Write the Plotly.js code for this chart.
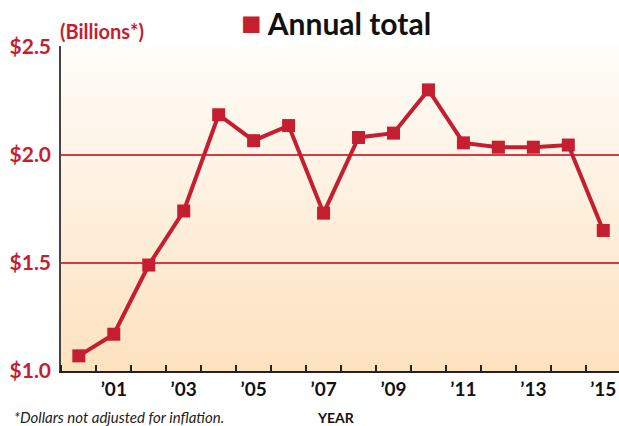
<!DOCTYPE html>
<html>
<head>
<meta charset="utf-8">
<script src="https://cdn.plot.ly/plotly-3.0.1.min.js"></script>
<style>html,body{margin:0;padding:0;background:#fff;}#chart{width:619px;height:426px;}</style>
</head>
<body>
<div id="chart"></div>
<script>
// Data
var years = [2000,2001,2002,2003,2004,2005,2006,2007,2008,2009,2010,2011,2012,2013,2014,2015];
var totals = [1.07,1.17,1.49,1.74,2.185,2.065,2.135,1.73,2.08,2.10,2.30,2.055,2.035,2.035,2.045,1.65];
var xTickVals = [2001,2003,2005,2007,2009,2011,2013,2015];
var xTickText = ["\u201901","\u201903","\u201905","\u201907","\u201909","\u201911","\u201913","\u201915"];
var yTickVals = [1.0,1.5,2.0,2.5];
var yTickText = ["$1.0","$1.5","$2.0","$2.5"];

var RED = "#c41e30";
var FONT = "Lato, 'Open Sans', sans-serif";

var gradSvg = '<svg xmlns="http://www.w3.org/2000/svg" width="10" height="100" preserveAspectRatio="none">' +
  '<defs><linearGradient id="g" x1="0" y1="0" x2="0" y2="1">' +
  '<stop offset="0" stop-color="#fffdfa"/><stop offset="1" stop-color="#fde2bf"/>' +
  '</linearGradient></defs><rect width="10" height="100" fill="url(#g)"/></svg>';
var gradUri = "data:image/svg+xml;base64," + btoa(gradSvg);

var trace = {
  x: years, y: totals, type: "scatter", mode: "lines+markers",
  line: {color: RED, width: 4},
  marker: {symbol: "square", size: 13, color: RED},
  showlegend: false, hoverinfo: "x+y"
};

var layout = {
  width: 619, height: 426,
  margin: {l: 61, r: 0, t: 46, b: 55},
  paper_bgcolor: "#ffffff",
  plot_bgcolor: "rgba(0,0,0,0)",
  title: {
    text: '<span style="color:' + RED + ';font-size:34px">\u25A0</span> Annual total',
    font: {family: FONT, size: 30, color: "#111111", weight: "bold"},
    x: 336/619, xref: "container", xanchor: "center",
    y: 1 - 24/426, yref: "container", yanchor: "middle"
  },
  xaxis: {
    range: [1999.49, 2015.45],
    tickmode: "array", tickvals: xTickVals, ticktext: xTickText,
    ticks: "", showgrid: false, zeroline: false,
    showline: true, linecolor: "#222222", linewidth: 1.5,
    tickfont: {family: FONT, size: 19, color: "#111111", weight: "bold"},
    minor: {tick0: 1999.5, dtick: 1, ticks: "inside", ticklen: 6, tickwidth: 1.5, tickcolor: "#222222", showgrid: false}
  },
  yaxis: {
    range: [1.0, 2.503],
    tickmode: "array", tickvals: yTickVals, ticktext: yTickText,
    ticks: "", showgrid: true, gridcolor: "#d63a48", gridwidth: 1.5,
    zeroline: false, showline: true, linecolor: "#444444", linewidth: 1.5,
    tickfont: {family: FONT, size: 21, color: RED, weight: "bold"},
    ticklabelstandoff: 4
  },
  images: [{
    source: gradUri, xref: "paper", yref: "paper", x: 0, y: 1,
    sizex: 1, sizey: 1, sizing: "stretch", xanchor: "left", yanchor: "top", layer: "below"
  }],
  annotations: [
    {text: "(Billions*)", xref: "paper", yref: "paper", x: -0.006, y: 1.046,
     xanchor: "left", yanchor: "middle", showarrow: false,
     font: {family: FONT, size: 20, color: RED, weight: "bold"}},
    {text: "<i>*Dollars not adjusted for inflation.</i>", xref: "paper", yref: "paper", x: -0.088, y: -0.143,
     xanchor: "left", yanchor: "middle", showarrow: false,
     font: {family: FONT, size: 15, color: "#222222"}},
    {text: "YEAR", xref: "paper", yref: "paper", x: 0.4928, y: -0.143,
     xanchor: "center", yanchor: "middle", showarrow: false,
     font: {family: FONT, size: 14, color: "#111111", weight: "bold"}}
  ]
};

Plotly.newPlot("chart", [trace], layout, {displayModeBar: false});
</script>
</body>
</html>
